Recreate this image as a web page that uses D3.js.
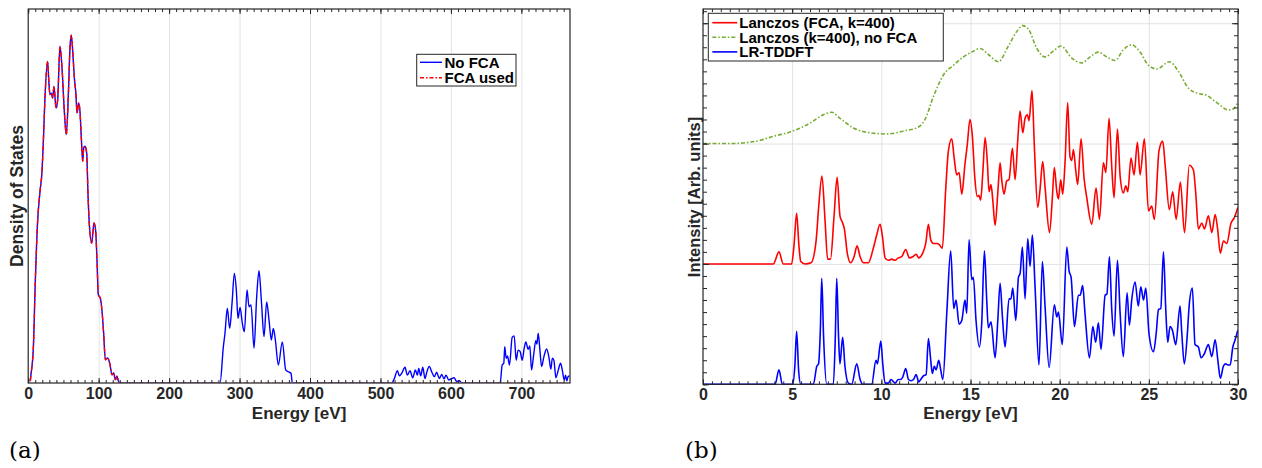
<!DOCTYPE html>
<html><head><meta charset="utf-8">
<script src="https://cdn.jsdelivr.net/npm/d3@7"></script>
<style>
body{margin:0;background:#fff}
svg{display:block}
</style>
</head><body>
<svg id="c" width="1262" height="468"></svg>
<script>
// ---------- DATA ----------
// Panel (a): density of states, [energy eV, DOS arb.]
const dosValence = [[3,0.5],[3.5,1.5],[7.3,9.4],[10.1,27.3],[13.4,43.3],[16.8,51.3],[19.6,56.6],[21.5,64.6],[23.8,76.2],[27.6,86.0],[29.0,81.6],[30.9,77.1],[32.8,77.5],[34.7,76.2],[36.6,79.3],[39.5,73.5],[41.8,75.7],[45.1,90.0],[48.0,84.2],[51.3,72.6],[54.1,66.4],[57.0,77.1],[59.3,89.6],[61.2,93.0],[63.2,88.7],[65.5,81.6],[67.8,77.1],[69.3,72.2],[71.6,74.9],[73.5,72.6],[75.4,65.5],[77.4,59.3],[78.8,62.8],[80.6,63.3],[83.0,61.5],[84.9,50.3],[86.8,42.3],[90.1,37.4],[93.4,42.8],[95.8,40.6],[97.7,32.5],[99.5,23.6],[102.4,22.7],[104.8,19.2],[107.2,12.9],[109.5,6.2],[112.8,6.7],[116.1,4.9],[118.9,2.2],[121.4,2.7],[123.7,0.9],[126.0,1.8],[128.4,0.3],[131,0]];
const dosCore1 = [[272.3,0],[277,9.7],[279.3,13.3],[282.6,20.0],[286,14.6],[289.3,21.3],[292.6,29.3],[295.4,24.9],[297.8,17.3],[300.7,20.2],[303.9,16.0],[306.8,13.7],[310.6,24.9],[313.4,20.4],[316.3,20.9],[320.5,9.3],[324.3,23.1],[327.6,30.0],[330.9,22.2],[334.7,12.4],[338.5,21.7],[341.8,16.8],[345.1,11.5],[347.9,14.6],[350.8,11.5],[355,4.8],[360.7,11.0],[365.5,3.5],[369.2,3.0],[373,2.6],[374.9,0]];
const dosCore2 = [[516,0],[519.7,1.2],[524,3.3],[526.8,1.9],[530.2,2.6],[534.8,4.2],[538.1,2.1],[541.9,3.3],[545.8,1.4],[549.5,3.5],[552.3,2.1],[554.3,3.9],[557.1,1.9],[560,4.2],[563.2,1.2],[565.6,2.8],[569.3,4.4],[573.1,2.8],[576.4,1.7],[579.8,2.9],[583.5,1.2],[586.9,2.3],[590.2,1.1],[593,2.1],[596.9,0.8],[601.1,1.2],[604.4,1.4],[608.2,0.4],[611.9,0.6],[615.3,0]];
const dosCore3 = [[669.9,0],[672.7,4.8],[675,5.3],[676.4,9.7],[678.4,6.6],[680.3,7.2],[683.1,4.8],[686.9,12.2],[689.8,12.6],[692.6,6.1],[695.4,8.8],[698.3,8.4],[701.1,6.1],[704,9.3],[706.3,11.0],[709.6,9.0],[712,9.9],[714.4,3.5],[717.2,7.2],[720.5,11.3],[722,10.4],[723.9,13.3],[726.3,8.8],[728.7,4.4],[731.9,7.0],[735.8,9.1],[739,7.0],[741.9,3.7],[743.9,6.6],[746.1,6.1],[749,1.4],[752.4,3.5],[755.6,5.3],[758,3.5],[760.9,0.8],[762.7,2.1],[764.5,0.6],[766.5,1.8],[768.3,1.8]];
const dosEnd = 769;
const leftLegend = ["No FCA", "FCA used"];
const leftMajorTicks = [0,100,200,300,400,500,600,700];

// Panel (b): spectra, [energy eV, intensity above own baseline]
const lanczosFCA = [[0,0],[3.94,0],[4.26,0.10],[4.5,0],[4.97,0],[5.1,0.15],[5.25,0.42],[5.38,0.15],[5.48,0.02],[5.72,0],[6.06,0.01],[6.34,0.19],[6.49,0.48],[6.67,0.73],[6.84,0.37],[6.99,0.04],[7.15,0.04],[7.35,0.40],[7.52,0.72],[7.68,0.40],[7.8,0.35],[7.93,0.29],[8.09,0.09],[8.28,0.01],[8.47,0.06],[8.64,0.15],[8.81,0.06],[8.99,0.01],[9.27,0.01],[9.55,0.13],[9.74,0.24],[9.93,0.33],[10.06,0.23],[10.21,0.05],[10.39,0.03],[10.58,0.04],[10.77,0.03],[10.95,0.05],[11.14,0.06],[11.37,0.12],[11.57,0.05],[11.76,0.06],[11.95,0.08],[12.1,0.05],[12.32,0.09],[12.49,0.17],[12.64,0.33],[12.77,0.20],[12.92,0.17],[13.11,0.17],[13.25,0.16],[13.42,0.13],[13.61,0.62],[13.76,0.94],[13.95,1.04],[14.09,0.87],[14.23,0.74],[14.36,0.76],[14.51,0.58],[14.69,0.83],[14.82,0.99],[14.97,1.20],[15.1,1.07],[15.25,0.70],[15.38,0.56],[15.47,0.57],[15.57,0.53],[15.69,0.76],[15.82,1.05],[15.95,0.83],[16.04,0.60],[16.15,0.66],[16.25,0.53],[16.38,0.32],[16.53,0.59],[16.66,0.84],[16.75,0.70],[16.88,0.58],[17.03,0.69],[17.16,0.70],[17.35,0.96],[17.5,0.70],[17.65,1.03],[17.78,1.27],[17.93,1.09],[18.06,1.21],[18.19,1.24],[18.28,1.19],[18.45,1.44],[18.58,0.98],[18.77,0.47],[18.9,0.62],[19.05,0.85],[19.18,0.64],[19.43,0.26],[19.59,0.55],[19.7,0.80],[19.84,0.60],[19.93,0.54],[20.06,0.70],[20.17,0.58],[20.3,0.84],[20.45,1.34],[20.58,0.89],[20.68,0.86],[20.77,0.95],[20.9,0.78],[21.01,0.66],[21.2,1.04],[21.37,0.71],[21.52,0.55],[21.8,0.33],[22.04,0.63],[22.23,0.37],[22.45,0.84],[22.59,0.76],[22.77,1.21],[22.92,0.81],[23.05,0.55],[23.24,1.12],[23.39,0.73],[23.57,0.59],[23.71,0.65],[23.82,0.60],[24.0,0.88],[24.17,0.74],[24.36,1.01],[24.51,0.74],[24.75,1.04],[24.98,0.44],[25.16,0.48],[25.31,0.37],[25.57,0.94],[25.78,1.02],[25.91,0.83],[26.15,0.45],[26.34,0.60],[26.53,0.37],[26.77,0.68],[27.0,0.26],[27.27,0.82],[27.5,0.78],[27.63,0.59],[27.78,0.29],[27.97,0.34],[28.12,0.29],[28.34,0.40],[28.53,0.26],[28.72,0.41],[28.85,0.3],[29.01,0.09],[29.18,0.19],[29.37,0.17],[29.61,0.34],[29.78,0.38],[29.99,0.47]];
const lanczosNoFCA = [[0,0],[1.51,0],[3.01,0.02],[3.94,0.06],[4.97,0.10],[6.0,0.17],[6.75,0.24],[7.22,0.26],[7.68,0.21],[8.43,0.13],[9.36,0.09],[10.3,0.08],[11.42,0.11],[11.98,0.13],[12.45,0.20],[12.92,0.39],[13.48,0.57],[14.04,0.65],[14.6,0.72],[15.07,0.76],[15.54,0.79],[16.0,0.74],[16.56,0.68],[17.12,0.81],[17.59,0.93],[17.93,0.98],[18.25,0.95],[18.72,0.79],[19.18,0.72],[19.65,0.77],[20.08,0.81],[20.68,0.71],[21.24,0.67],[21.71,0.72],[22.17,0.76],[22.64,0.72],[23.11,0.69],[23.57,0.78],[24.04,0.82],[24.51,0.76],[24.98,0.65],[25.45,0.62],[26.15,0.68],[26.66,0.60],[27.22,0.46],[27.69,0.42],[28.25,0.40],[28.81,0.34],[29.46,0.28],[29.74,0.29],[29.99,0.34]];
const lrTDDFT = [[0,0],[4.04,0],[4.26,0.12],[4.45,0],[5.03,0],[5.15,0.15],[5.25,0.44],[5.36,0.12],[5.48,0],[6.19,0],[6.38,0.15],[6.48,0.17],[6.58,0.45],[6.66,0.88],[6.76,0.40],[6.94,0],[7.31,0],[7.42,0.40],[7.50,0.88],[7.6,0.40],[7.68,0.17],[7.83,0.39],[7.96,0.15],[8.15,0.01],[8.34,0],[8.62,0.17],[8.81,0.04],[8.96,0],[9.46,0],[9.70,0.2],[9.78,0.17],[9.97,0.36],[10.08,0.17],[10.21,0.01],[10.39,0.01],[10.54,0.04],[10.77,0.01],[10.95,0.04],[11.1,0.04],[11.2,0.06],[11.37,0.13],[11.52,0.04],[11.67,0.03],[11.8,0.04],[11.95,0.08],[12.1,0.02],[12.21,0.04],[12.36,0.07],[12.51,0.08],[12.64,0.38],[12.77,0.2],[12.86,0.09],[12.97,0.15],[13.07,0.12],[13.22,0.2],[13.33,0.12],[13.45,0.04],[13.67,0.59],[13.89,1.11],[14.06,0.63],[14.19,0.70],[14.36,0.50],[14.51,0.53],[14.69,0.70],[14.79,0.59],[14.92,1.2],[15.07,0.87],[15.16,0.89],[15.31,0.53],[15.5,0.31],[15.63,0.51],[15.78,1.11],[15.91,0.70],[16.0,0.47],[16.15,0.52],[16.38,0.22],[16.53,0.53],[16.66,0.84],[16.79,0.56],[16.94,0.31],[17.16,0.71],[17.27,0.71],[17.37,0.80],[17.54,0.53],[17.69,0.89],[17.78,0.92],[17.91,1.14],[18.06,0.71],[18.21,1.21],[18.34,0.98],[18.47,1.24],[18.62,0.81],[18.84,0.16],[19.03,1.02],[19.18,0.65],[19.41,0.14],[19.7,0.66],[19.84,0.56],[19.93,0.6],[20.15,0.33],[20.4,1.14],[20.53,0.94],[20.64,0.89],[20.83,0.48],[21.05,0.74],[21.15,0.74],[21.29,0.82],[21.42,0.59],[21.67,0.22],[21.86,0.48],[22.02,0.35],[22.17,0.51],[22.32,0.29],[22.55,0.74],[22.65,0.75],[22.79,1.06],[22.92,0.62],[23.05,0.40],[23.24,1.03],[23.39,0.59],[23.57,0.23],[23.78,0.76],[23.91,0.49],[24.04,0.70],[24.23,0.85],[24.41,0.65],[24.55,0.81],[24.7,0.70],[24.83,0.80],[25.01,0.42],[25.26,0.27],[25.41,0.42],[25.54,0.62],[25.67,0.63],[25.82,1.10],[25.95,0.62],[26.06,0.35],[26.19,0.48],[26.32,0.45],[26.51,0.33],[26.75,0.65],[26.85,0.42],[26.99,0.17],[27.16,0.42],[27.26,0.65],[27.44,0.80],[27.59,0.33],[27.78,0.31],[27.93,0.22],[28.1,0.25],[28.34,0.33],[28.53,0.23],[28.72,0.37],[28.87,0.2],[29.01,0.05],[29.18,0.15],[29.3,0.17],[29.43,0.16],[29.56,0.16],[29.71,0.31],[29.84,0.37],[29.99,0.45]];
const rightOffsets = [1, 2, 0];  // vertical stacking of the three spectra
const rightLegend = ["Lanczos (FCA, k=400)", "Lanczos (k=400), no FCA", "LR-TDDFT"];
const rightMajorTicks = [0,5,10,15,20,25,30];

// ---------- DRAWING ----------
const svg = d3.select("#c");
const FONT = "'Liberation Sans', Arial, sans-serif";
const SERIF = "'DejaVu Serif', serif";
const AX = "#262626", GRID = "#e2e2e2";

function styleTicks(g){ g.select(".domain").remove(); g.selectAll("line").attr("stroke", AX).attr("stroke-width",1); }
function styleGrid(g){ g.select(".domain").remove(); g.selectAll("line").attr("stroke", GRID).attr("stroke-width",1); }

// ===== Panel (a) =====
const A = {x0:28.2, x1:570, y0:9, y1:383};
const xA = d3.scaleLinear().domain([0,769]).range([A.x0,A.x1]);
const yA = d3.scaleLinear().domain([0,100]).range([A.y1,A.y0]);
const gA = svg.append("g");
svg.append("defs").append("clipPath").attr("id","clipA").append("rect")
  .attr("x",A.x0).attr("y",A.y0-2).attr("width",A.x1-A.x0).attr("height",A.y1-A.y0+1.5);

gA.append("g").attr("transform",`translate(0,${A.y1})`)
  .call(d3.axisBottom(xA).tickValues(leftMajorTicks.slice(1)).tickSize(-(A.y1-A.y0)).tickFormat(""))
  .call(styleGrid);

const noFCA = dosValence.concat(dosCore1, dosCore2, dosCore3);
const fcaUsed = dosValence.concat([[dosEnd,0]]);
const lineA = d3.line().x(d=>xA(d[0])).y(d=>yA(d[1])).curve(d3.curveMonotoneX);
const plotA = gA.append("g").attr("clip-path","url(#clipA)");
plotA.append("path").datum(noFCA).attr("d",lineA).attr("fill","none").attr("stroke","#0000ff").attr("stroke-width",1.4);
plotA.append("path").datum(fcaUsed).attr("d",lineA).attr("fill","none").attr("stroke","#ff0000").attr("stroke-width",1.4).attr("stroke-dasharray","5,2,1.5,2");

// ticks
gA.append("g").attr("transform",`translate(0,${A.y1})`).call(d3.axisBottom(xA).tickValues(d3.range(0,770,10)).tickSize(-3).tickFormat("")).call(styleTicks);
gA.append("g").attr("transform",`translate(0,${A.y0})`).call(d3.axisTop(xA).tickValues(d3.range(0,770,10)).tickSize(-3).tickFormat("")).call(styleTicks);
gA.append("g").attr("transform",`translate(0,${A.y0})`).call(d3.axisTop(xA).tickValues(leftMajorTicks).tickSize(-5).tickFormat("")).call(styleTicks);
gA.append("g").attr("transform",`translate(0,${A.y1})`)
  .call(d3.axisBottom(xA).tickValues(leftMajorTicks).tickSize(-5).tickPadding(5).tickFormat(d=>d))
  .call(styleTicks)
  .attr("font-family",FONT).attr("font-size",16).attr("font-weight","bold").attr("color",AX);

gA.append("rect").attr("x",A.x0).attr("y",A.y0).attr("width",A.x1-A.x0).attr("height",A.y1-A.y0)
  .attr("fill","none").attr("stroke",AX).attr("stroke-width",1.2);

gA.append("text").attr("x",(A.x0+A.x1)/2).attr("y",419).attr("text-anchor","middle")
  .attr("font-family",FONT).attr("font-size",17).attr("font-weight","bold").attr("fill",AX).text("Energy [eV]");
gA.append("text").attr("transform",`translate(22.5,196) rotate(-90)`).attr("text-anchor","middle")
  .attr("font-family",FONT).attr("font-size",17.5).attr("font-weight","bold").attr("fill",AX).text("Density of States");

// legend (a)
const legA = gA.append("g");
legA.append("rect").attr("x",416.7).attr("y",54.3).attr("width",99.3).attr("height",31.7).attr("fill","#fff").attr("stroke",AX).attr("stroke-width",1);
const legAStyles = [{c:"#0000ff",d:null},{c:"#ff0000",d:"4,2,1.5,2"}];
leftLegend.forEach((t,i)=>{
  const yy = 62.3 + i*15.4;
  legA.append("line").attr("x1",420).attr("x2",442).attr("y1",yy).attr("y2",yy).attr("stroke",legAStyles[i].c).attr("stroke-width",1.4).attr("stroke-dasharray",legAStyles[i].d);
  legA.append("text").attr("x",444.5).attr("y",yy+5.6).attr("font-family",FONT).attr("font-size",15).attr("font-weight","bold").attr("fill","#000").text(t);
});

// ===== Panel (b) =====
const B = {x0:703, x1:1238, y0:9, y1:384.3};
const xB = d3.scaleLinear().domain([0,30]).range([B.x0,B.x1]);
const yB = d3.scaleLinear().domain([0,3.118]).range([B.y1,B.y0]);
const gB = svg.append("g");
svg.select("defs").append("clipPath").attr("id","clipB").append("rect")
  .attr("x",B.x0).attr("y",B.y0).attr("width",B.x1-B.x0).attr("height",B.y1-B.y0+1.5);

gB.append("g").attr("transform",`translate(0,${B.y1})`)
  .call(d3.axisBottom(xB).tickValues(rightMajorTicks.slice(1,-1)).tickSize(-(B.y1-B.y0)).tickFormat(""))
  .call(styleGrid);
gB.append("g").attr("transform",`translate(${B.x0},0)`)
  .call(d3.axisLeft(yB).tickValues([1,2,3]).tickSize(-(B.x1-B.x0)).tickFormat(""))
  .call(styleGrid);

const lineB = off => d3.line().x(d=>xB(d[0])).y(d=>yB(d[1]+off)).curve(d3.curveMonotoneX);
const plotB = gB.append("g").attr("clip-path","url(#clipB)");
const seriesB = [
  {data:lrTDDFT, off:rightOffsets[2], c:"#0000ff", d:null},
  {data:lanczosFCA, off:rightOffsets[0], c:"#ff0000", d:null},
  {data:lanczosNoFCA, off:rightOffsets[1], c:"#77ac30", d:"4,2,1.5,2"}
];
seriesB.forEach(s=>{
  plotB.append("path").datum(s.data).attr("d",lineB(s.off)).attr("fill","none")
    .attr("stroke",s.c).attr("stroke-width",1.6).attr("stroke-dasharray",s.d);
});

// ticks (b)
const minorX = d3.range(0,30.01,0.5), minorY = d3.range(0,3.11,0.1);
gB.append("g").attr("transform",`translate(0,${B.y1})`).call(d3.axisBottom(xB).tickValues(minorX).tickSize(-3).tickFormat("")).call(styleTicks);
gB.append("g").attr("transform",`translate(0,${B.y0})`).call(d3.axisTop(xB).tickValues(minorX).tickSize(-3).tickFormat("")).call(styleTicks);
gB.append("g").attr("transform",`translate(0,${B.y0})`).call(d3.axisTop(xB).tickValues(rightMajorTicks).tickSize(-5).tickFormat("")).call(styleTicks);
gB.append("g").attr("transform",`translate(${B.x0},0)`).call(d3.axisLeft(yB).tickValues(minorY).tickSize(-4).tickFormat("")).call(styleTicks);
gB.append("g").attr("transform",`translate(${B.x0},0)`).call(d3.axisLeft(yB).tickValues([0,1,2,3]).tickSize(-6).tickFormat("")).call(styleTicks);
gB.append("g").attr("transform",`translate(${B.x1},0)`).call(d3.axisRight(yB).tickValues(minorY).tickSize(-4).tickFormat("")).call(styleTicks);
gB.append("g").attr("transform",`translate(${B.x1},0)`).call(d3.axisRight(yB).tickValues([0,1,2,3]).tickSize(-6).tickFormat("")).call(styleTicks);
gB.append("g").attr("transform",`translate(0,${B.y1})`)
  .call(d3.axisBottom(xB).tickValues(rightMajorTicks).tickSize(-5).tickPadding(4.5).tickFormat(d=>d))
  .call(styleTicks)
  .attr("font-family",FONT).attr("font-size",16).attr("font-weight","bold").attr("color",AX);

gB.append("rect").attr("x",B.x0).attr("y",B.y0).attr("width",B.x1-B.x0).attr("height",B.y1-B.y0)
  .attr("fill","none").attr("stroke",AX).attr("stroke-width",1.2);

gB.append("text").attr("x",(B.x0+B.x1)/2).attr("y",419).attr("text-anchor","middle")
  .attr("font-family",FONT).attr("font-size",17).attr("font-weight","bold").attr("fill",AX).text("Energy [eV]");
gB.append("text").attr("transform",`translate(700,197) rotate(-90)`).attr("text-anchor","middle")
  .attr("font-family",FONT).attr("font-size",16.5).attr("font-weight","bold").attr("fill",AX).text("Intensity [Arb. units]");

// legend (b)
const legB = gB.append("g");
legB.append("rect").attr("x",708.3).attr("y",13.3).attr("width",235).attr("height",47.7).attr("fill","#fff").attr("stroke",AX).attr("stroke-width",1);
const legBStyles = [{c:"#ff0000",d:null},{c:"#77ac30",d:"4,2,1.5,2"},{c:"#0000ff",d:null}];
rightLegend.forEach((t,i)=>{
  const yy = 22.7 + i*14.6;
  legB.append("line").attr("x1",712.3).attr("x2",737.3).attr("y1",yy).attr("y2",yy).attr("stroke",legBStyles[i].c).attr("stroke-width",1.6).attr("stroke-dasharray",legBStyles[i].d);
  legB.append("text").attr("x",739.3).attr("y",yy+5.4).attr("font-family",FONT).attr("font-size",15).attr("font-weight","bold").attr("fill","#000").text(t);
});

// panel captions
svg.append("text").attr("x",9).attr("y",458).attr("font-family",SERIF).attr("font-size",23).attr("fill","#000").text("(a)");
svg.append("text").attr("x",685).attr("y",458).attr("font-family",SERIF).attr("font-size",23).attr("fill","#000").text("(b)");
</script>
</body></html>
